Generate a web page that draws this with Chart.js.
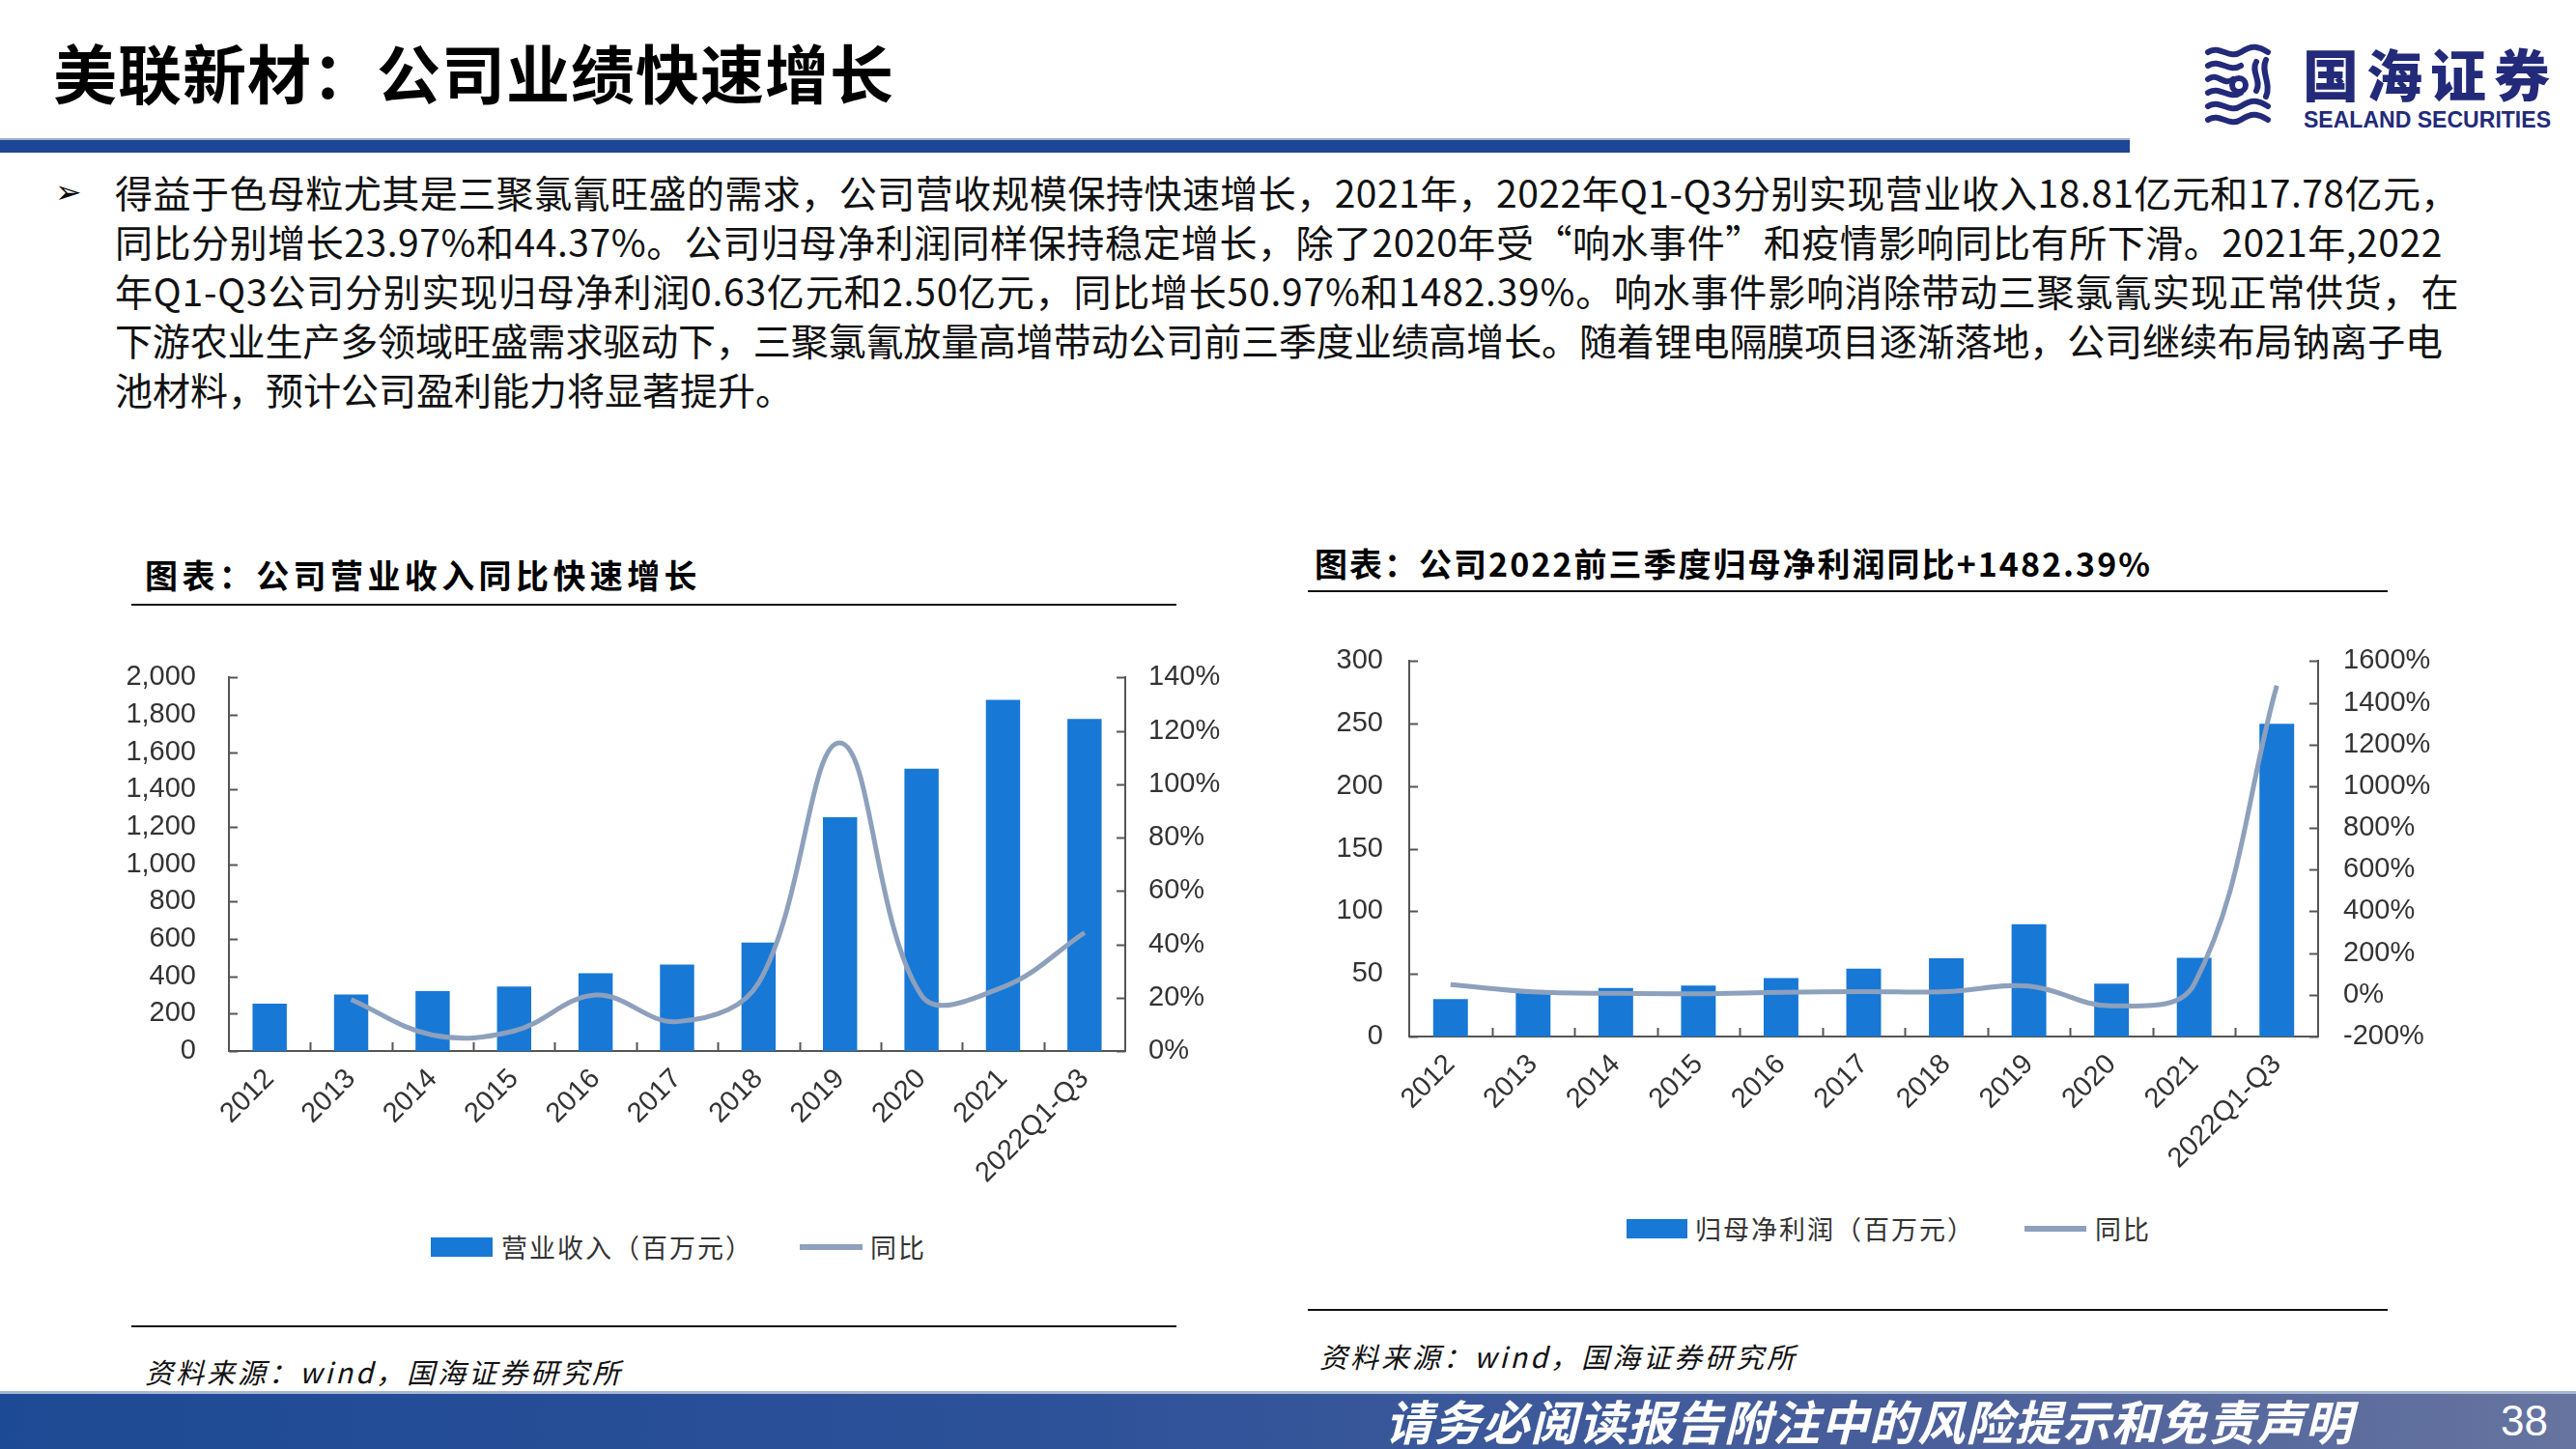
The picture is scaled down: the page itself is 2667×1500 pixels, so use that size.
<!DOCTYPE html>
<html><head><meta charset="utf-8">
<script src="https://cdn.jsdelivr.net/npm/chart.js@4.4.0/dist/chart.umd.min.js"></script>
<style>
html,body{margin:0;padding:0;background:#fff;}
body{width:2667px;height:1500px;position:relative;overflow:hidden;font-family:"Noto Sans CJK SC","Noto Sans",sans-serif;color:#000;}
.abs{position:absolute;white-space:nowrap;}
#title{left:55px;top:28px;font-size:66px;font-weight:700;line-height:90px;}
#topbar{left:0;top:143px;width:2205px;height:15px;background:#1c4794;border-top:2px solid #9fb0cf;box-sizing:border-box;}
.body{left:119px;font-size:39px;line-height:51px;color:#111;}
#bullet{left:57px;top:173px;font-size:33px;line-height:51px;font-family:"DejaVu Sans";}
.ctitle{font-size:34px;font-weight:700;line-height:44px;letter-spacing:3px;}
.hline{height:2px;background:#111;}
.src{font-size:29px;font-style:italic;line-height:40px;letter-spacing:3px;color:#111;}
.leg{font-size:27px;line-height:36px;color:#333;letter-spacing:2px;}
#footer{left:0;top:1440px;width:2667px;height:60px;background:linear-gradient(90deg,#1d4a94 0%,#2c5199 40%,#4a5f9b 75%,#66749f 100%);border-top:3px solid #a9b7d3;box-sizing:border-box;}
#ftext{left:1434px;top:1441px;font-size:49px;line-height:58px;color:#fff;font-style:italic;font-weight:700;}
#pnum{left:2589px;top:1442px;font-size:44px;line-height:58px;color:#fff;font-family:"Liberation Sans",Arial,sans-serif;}
canvas{position:absolute;}
</style>
</head>
<body>
<div id="title" class="abs fit" data-w="871">美联新材：公司业绩快速增长</div>
<div id="topbar" class="abs"></div>

<svg class="abs" style="left:2278px;top:44px" width="380" height="96">
  <g fill="none" stroke="#232a7a" stroke-width="6" stroke-linecap="round">
    <path d="M8 10 C20 2,30 18,42 10 S60 4,70 10"/>
    <path d="M8 24 C20 16,30 32,42 24"/>
    <path d="M8 38 C18 30,24 46,34 38"/>
    <path d="M8 52 C20 44,30 60,42 52"/>
    <path d="M8 66 C20 58,30 74,42 66 S60 60,70 66"/>
    <path d="M8 80 C20 72,30 88,42 80 S60 74,70 80"/>
    <path d="M58 20 C52 30,64 40,58 50"/>
    <path d="M68 18 C62 30,74 42,68 56"/>
    <circle cx="40" cy="44" r="7"/>
  </g>
  <text x="106" y="56" font-family="Noto Sans CJK SC" font-weight="900" font-size="58" fill="#232a7a" textLength="256" lengthAdjust="spacing">国海证券</text>
  <text x="107" y="88" font-family="Liberation Sans" font-weight="700" font-size="24" fill="#232a7a" textLength="256" lengthAdjust="spacingAndGlyphs">SEALAND SECURITIES</text>
</svg>

<div id="bullet" class="abs">➢</div>
<div class="abs body fit" data-w="2427" style="top:173px">得益于色母粒尤其是三聚氯氰旺盛的需求，公司营收规模保持快速增长，2021年，2022年Q1-Q3分别实现营业收入18.81亿元和17.78亿元，</div>
<div class="abs body fit" data-w="2410" style="top:224px">同比分别增长23.97%和44.37%。公司归母净利润同样保持稳定增长，除了2020年受“响水事件”和疫情影响同比有所下滑。2021年,2022</div>
<div class="abs body fit" data-w="2427" style="top:275px">年Q1-Q3公司分别实现归母净利润0.63亿元和2.50亿元，同比增长50.97%和1482.39%。响水事件影响消除带动三聚氯氰实现正常供货，在</div>
<div class="abs body fit" data-w="2410" style="top:326px">下游农业生产多领域旺盛需求驱动下，三聚氯氰放量高增带动公司前三季度业绩高增长。随着锂电隔膜项目逐渐落地，公司继续布局钠离子电</div>
<div class="abs body" style="top:377px">池材料，预计公司盈利能力将显著提升。</div>

<div class="abs ctitle fit" data-w="576" style="left:150px;top:573px">图表：公司营业收入同比快速增长</div>
<div class="abs hline" style="left:136px;top:625px;width:1082px"></div>
<div class="abs hline" style="left:136px;top:1372px;width:1082px"></div>
<div class="abs src" style="left:150px;top:1399px">资料来源：wind，国海证券研究所</div>

<div class="abs ctitle fit" data-w="867" style="left:1361px;top:561px">图表：公司2022前三季度归母净利润同比+1482.39%</div>
<div class="abs hline" style="left:1354px;top:611px;width:1118px"></div>
<div class="abs hline" style="left:1354px;top:1355px;width:1118px"></div>
<div class="abs src" style="left:1366px;top:1383px">资料来源：wind，国海证券研究所</div>

<canvas id="c1" width="1180" height="600" style="left:100px;top:650px"></canvas>
<canvas id="c2" width="1220" height="600" style="left:1330px;top:640px"></canvas>

<div class="abs" style="left:446px;top:1281px;width:64px;height:20px;background:#1878d6"></div>
<div class="abs leg" style="left:519px;top:1273px">营业收入（百万元）</div>
<div class="abs" style="left:828px;top:1288px;width:65px;height:6px;background:#8da0bc"></div>
<div class="abs leg" style="left:901px;top:1273px">同比</div>

<div class="abs" style="left:1684px;top:1262px;width:63px;height:20px;background:#1878d6"></div>
<div class="abs leg" style="left:1755px;top:1254px">归母净利润（百万元）</div>
<div class="abs" style="left:2096px;top:1269px;width:64px;height:6px;background:#8da0bc"></div>
<div class="abs leg" style="left:2169px;top:1254px">同比</div>

<div id="footer" class="abs"></div>
<div id="ftext" class="abs fit" data-w="1002">请务必阅读报告附注中的风险提示和免责声明</div>
<div id="pnum" class="abs">38</div>

<script>
const years = ['2012','2013','2014','2015','2016','2017','2018','2019','2020','2021','2022Q1-Q3'];
const revenue = [254, 303, 321, 345, 417, 463, 581, 1252, 1512, 1881, 1778];
const revenueYoY = [null, 19.3, 6.0, 7.5, 21.0, 11.0, 25.5, 115.5, 20.8, 23.97, 44.37];
const profit = [30, 36, 38.7, 40.8, 46.8, 54.2, 62.6, 89.8, 42.2, 63, 250];
const profitYoY = [49, 14, 7, 5, 12, 15, 15, 42, -53, 50.97, 1482.39];
const revTicks = {min:0, max:2000, step:200};
const revYoYTicks = {min:0, max:140, step:20};
const profTicks = {min:0, max:300, step:50};
const profYoYTicks = {min:-200, max:1600, step:200};

// fit text lines to the widths seen in the reference
document.querySelectorAll('.fit').forEach(el=>{
  const target = +el.dataset.w;
  el.style.letterSpacing = '0px';
  const w = el.getBoundingClientRect().width;
  const n = [...el.textContent].length;
  el.style.letterSpacing = ((target - w) / n).toFixed(2) + 'px';
});

const BAR = '#1878d6', LINE = '#8da0bc', AXIS = '#555';
const tickFont = {family:'"Liberation Sans", Arial, sans-serif', size:29};

const innerTicks = {
  id:'innerTicks',
  afterDraw(chart){
    const ctx = chart.ctx; ctx.save();
    ctx.strokeStyle = AXIS; ctx.lineWidth = 2; const L = 9;
    ['y','y1'].forEach(id=>{
      const s = chart.scales[id];
      const left = s.position === 'left';
      const x0 = left ? chart.chartArea.left : chart.chartArea.right;
      s.ticks.forEach(t=>{
        const y = Math.round(s.getPixelForValue(t.value)) + 0.5;
        ctx.beginPath(); ctx.moveTo(x0, y); ctx.lineTo(x0 + (left ? L : -L), y); ctx.stroke();
      });
    });
    const xs = chart.scales.x; const n = xs.ticks.length;
    const step = xs.getPixelForValue(1) - xs.getPixelForValue(0);
    const yb = chart.chartArea.bottom;
    for (let i = 1; i < n; i++) {
      const x = Math.round(xs.getPixelForValue(i) - step/2) + 0.5;
      ctx.beginPath(); ctx.moveTo(x, yb); ctx.lineTo(x, yb - L); ctx.stroke();
    }
    ctx.restore();
  }
};

function makeChart(id, bars, yoy, t1, t2, fmt1, geo) {
  return new Chart(document.getElementById(id), {
    type:'bar',
    data:{
      labels: years,
      datasets:[
        {type:'line', data: yoy, yAxisID:'y1', borderColor: LINE, borderWidth:5, pointRadius:0, tension:0.38, order:0, spanGaps:false},
        {type:'bar', data: bars, yAxisID:'y', backgroundColor: BAR, barPercentage:0.42, categoryPercentage:1, order:1}
      ]
    },
    options:{
      responsive:false, animation:false, devicePixelRatio:1,
      layout:{padding:{top:geo.top, left:0, right:0, bottom:0}},
      plugins:{legend:{display:false}, tooltip:{enabled:false}},
      scales:{
        x:{
          grid:{display:false, drawTicks:false, offset:true},
          border:{display:true, color:AXIS, width:2},
          ticks:{color:'#333', font:tickFont, minRotation:45, maxRotation:45, padding:12, autoSkip:false},
          afterFit: s => { s.height = geo.xh; }
        },
        y:{
          position:'left', min:t1.min, max:t1.max,
          grid:{display:false, drawTicks:false},
          border:{display:true, color:AXIS, width:2},
          ticks:{stepSize:t1.step, color:'#333', font:tickFont, padding:geo.lpad, callback: fmt1},
          afterFit: s => { s.width = geo.lw; }
        },
        y1:{
          position:'right', min:t2.min, max:t2.max,
          grid:{display:false, drawTicks:false},
          border:{display:true, color:AXIS, width:2},
          ticks:{stepSize:t2.step, color:'#333', font:tickFont, padding:geo.rpad, callback: v => v + '%'},
          afterFit: s => { s.width = geo.rw; }
        }
      }
    },
    plugins:[innerTicks]
  });
}

makeChart('c1', revenue, revenueYoY, revTicks, revYoYTicks,
  v => Number(v).toLocaleString('en-US'),
  {top:42, xh:162, lw:137, rw:115, lpad:34, rpad:24});
makeChart('c2', profit, profitYoY, profTicks, profYoYTicks,
  v => String(v),
  {top:40, xh:167, lw:129, rw:150, lpad:27, rpad:26});
</script>
</body></html>
